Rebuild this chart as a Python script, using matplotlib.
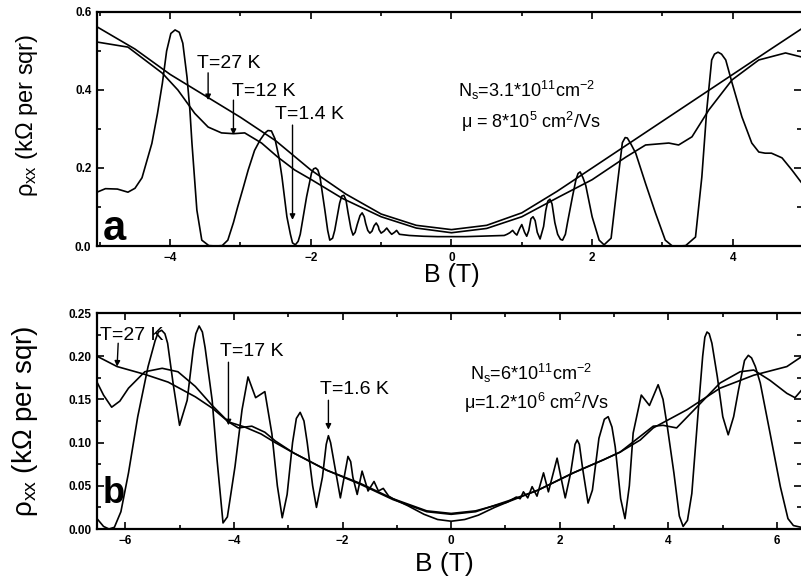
import matplotlib
matplotlib.use("Agg")
import matplotlib.pyplot as plt
from matplotlib.ticker import MultipleLocator

plt.rcParams['font.family'] = ['Liberation Sans', 'DejaVu Sans']
plt.rcParams['mathtext.fontset'] = 'custom'
plt.rcParams['mathtext.rm'] = 'Liberation Sans'
plt.rcParams['mathtext.it'] = 'Liberation Sans:italic'
plt.rcParams['mathtext.bf'] = 'Liberation Sans:bold'

# ---- panel a : Ns = 3.1e11 ----
B_a_27 = [-5.04, -4.5, -4.0, -3.5, -3.0, -2.5, -2.0, -1.5, -1.0, -0.5, 0.0,
          0.5, 1.0, 1.5, 2.0, 2.5, 3.0, 3.5, 4.0, 4.5, 4.97]
rho_a_27 = [0.562, 0.505, 0.44, 0.385, 0.33, 0.27, 0.195, 0.133, 0.082, 0.053, 0.042,
            0.053, 0.085, 0.14, 0.2, 0.26, 0.32, 0.38, 0.44, 0.50, 0.556]

B_a_12 = [-5.04, -4.6, -4.11, -3.89, -3.65, -3.46, -3.27, -3.1, -2.94, -2.7, -2.47,
          -2.23, -1.99, -1.55, -1.0, -0.5, 0.0, 0.5, 1.0, 1.53, 2.0, 2.48, 2.76,
          3.09, 3.23, 3.42, 3.66, 3.99, 4.37, 4.75, 4.97]
rho_a_12 = [0.523, 0.51, 0.443, 0.40, 0.34, 0.305, 0.29, 0.288, 0.29, 0.264, 0.228,
            0.195, 0.17, 0.122, 0.075, 0.046, 0.034, 0.045, 0.075, 0.126, 0.17, 0.228, 0.259,
            0.264, 0.259, 0.28, 0.349, 0.426, 0.477, 0.495, 0.485]

B_a_14 = [-5.04, -4.92, -4.75, -4.6, -4.5, -4.4, -4.26, -4.18, -4.11, -4.05, -3.99,
          -3.93, -3.87, -3.82, -3.76, -3.72, -3.69, -3.62, -3.55, -3.45, -3.35, -3.26,
          -3.18, -3.1, -3.04, -2.96, -2.89, -2.8, -2.72, -2.65, -2.61, -2.56, -2.51,
          -2.45, -2.41, -2.34, -2.29, -2.26, -2.22, -2.18, -2.15, -2.06, -1.99, -1.96,
          -1.93, -1.9, -1.87, -1.8, -1.76, -1.73, -1.69, -1.66, -1.59, -1.56, -1.53,
          -1.5, -1.47, -1.43, -1.4, -1.37, -1.34, -1.3, -1.27, -1.24, -1.22, -1.19,
          -1.16, -1.13, -1.1, -1.07, -1.04, -1.03, -1.0, -0.96, -0.92, -0.88, -0.85,
          -0.81, -0.78, -0.74, -0.6, -0.4, -0.2, 0.0, 0.2, 0.4, 0.6, 0.75, 0.79, 0.83,
          0.87, 0.9, 0.93, 0.97, 1.0, 1.04, 1.07, 1.1, 1.13, 1.16, 1.19, 1.22, 1.26,
          1.31, 1.34, 1.37, 1.4, 1.43, 1.47, 1.51, 1.55, 1.58, 1.62, 1.65, 1.72, 1.77,
          1.8, 1.83, 1.87, 1.91, 2.0, 2.1, 2.17, 2.27, 2.36, 2.43, 2.47, 2.5, 2.55,
          2.62, 2.76, 2.9, 3.04, 3.14, 3.24, 3.33, 3.47, 3.56, 3.63, 3.7, 3.74, 3.79,
          3.84, 3.9, 3.99, 4.13, 4.27, 4.37, 4.46, 4.55, 4.7, 4.84, 4.97]
rho_a_14 = [0.138, 0.147, 0.146, 0.138, 0.148, 0.175, 0.263, 0.34, 0.418, 0.5, 0.545,
            0.554, 0.548, 0.52, 0.433, 0.35, 0.264, 0.092, 0.015, 0.001, 0.0, 0.001,
            0.015, 0.06, 0.1, 0.15, 0.195, 0.245, 0.272, 0.29, 0.296, 0.295, 0.275,
            0.225, 0.177, 0.075, 0.03, 0.008, 0.003, 0.012, 0.03, 0.126, 0.187, 0.198,
            0.2, 0.195, 0.178, 0.092, 0.04, 0.015, 0.02, 0.04, 0.11, 0.128, 0.13,
            0.118, 0.085, 0.045, 0.028, 0.035, 0.055, 0.078, 0.085, 0.075, 0.058, 0.04,
            0.033, 0.038, 0.052, 0.059, 0.05, 0.042, 0.033, 0.038, 0.046, 0.036, 0.03,
            0.035, 0.04, 0.03, 0.027, 0.025, 0.024, 0.024, 0.024, 0.025, 0.026, 0.027, 0.03, 0.034,
            0.04, 0.033, 0.028, 0.045, 0.055, 0.035, 0.025, 0.04, 0.07, 0.075, 0.065, 0.035, 0.018,
            0.05, 0.09, 0.115, 0.12, 0.108, 0.06, 0.03, 0.017, 0.015, 0.03, 0.06, 0.126, 0.17,
            0.186, 0.19, 0.175, 0.155, 0.075, 0.015, 0.003, 0.02, 0.16, 0.265, 0.278, 0.277, 0.262,
            0.238, 0.16, 0.085, 0.015, 0.0, 0.0, 0.001, 0.023, 0.177, 0.349, 0.477, 0.492, 0.497,
            0.492, 0.477, 0.418, 0.331, 0.264, 0.241, 0.238, 0.238, 0.226, 0.195, 0.164]

# ---- panel b : Ns = 6e11 ----
B_b_27 = [-6.52, -6.15, -5.64, -5.21, -4.71, -4.4, -4.1, -3.8, -3.5, -3.24, -2.9,
          -2.29, -1.68, -1.07, -0.45, 0.0, 0.45, 1.03, 1.6, 2.25, 2.8, 3.11, 3.48,
          3.72, 4.34, 4.95, 5.57, 6.18, 6.44]
rho_b_27 = [0.2, 0.188, 0.179, 0.17, 0.153, 0.14, 0.124, 0.118, 0.11, 0.1, 0.088,
            0.068, 0.053, 0.035, 0.021, 0.018, 0.021, 0.031, 0.045, 0.065, 0.08, 0.089, 0.103,
            0.117, 0.138, 0.163, 0.178, 0.188, 0.199]

B_b_17 = [-6.52, -6.4, -6.25, -6.1, -5.94, -5.64, -5.32, -5.03, -4.71, -4.4, -4.1,
          -3.92, -3.67, -3.43, -3.24, -2.9, -2.29, -1.68, -1.07, -0.45, 0.0, 0.45, 1.07,
          1.6, 2.25, 2.8, 3.11, 3.72, 3.9, 4.15, 4.52, 4.95, 5.32, 5.57, 5.87, 6.18,
          6.33, 6.44]
rho_b_17 = [0.17, 0.155, 0.141, 0.148, 0.163, 0.182, 0.186, 0.182, 0.165, 0.143, 0.124,
            0.117, 0.119, 0.112, 0.102, 0.088, 0.068, 0.052, 0.034, 0.02, 0.017, 0.02, 0.033,
            0.045, 0.065, 0.08, 0.089, 0.119, 0.12, 0.117, 0.141, 0.169, 0.182, 0.184, 0.172, 0.157,
            0.152, 0.16]

B_b_16 = [-6.52, -6.4, -6.3, -6.2, -6.08, -5.94, -5.77, -5.58, -5.45, -5.39, -5.33,
          -5.27, -5.22, -5.12, -5.0, -4.86, -4.75, -4.7, -4.64, -4.58, -4.53, -4.4,
          -4.31, -4.2, -4.12, -3.98, -3.85, -3.74, -3.6, -3.43, -3.3, -3.2, -3.11,
          -3.02, -2.92, -2.85, -2.78, -2.71, -2.65, -2.55, -2.48, -2.37, -2.3, -2.26,
          -2.22, -2.15, -2.04, -1.97, -1.9, -1.85, -1.81, -1.73, -1.64, -1.53, -1.42,
          -1.34, -1.25, -1.15, -1.07, -0.8, -0.5, -0.25, 0.0, 0.25, 0.5, 0.8, 1.03,
          1.2, 1.27, 1.33, 1.41, 1.49, 1.58, 1.7, 1.79, 1.95, 2.02, 2.1, 2.2, 2.28,
          2.32, 2.36, 2.42, 2.52, 2.6, 2.72, 2.82, 2.89, 2.96, 3.02, 3.12, 3.2, 3.28,
          3.35, 3.5, 3.65, 3.81, 3.9, 3.98, 4.1, 4.2, 4.27, 4.35, 4.43, 4.55, 4.63,
          4.67, 4.71, 4.75, 4.8, 4.9, 5.0, 5.1, 5.2, 5.29, 5.4, 5.47, 5.53, 5.6, 5.69,
          5.87, 6.06, 6.2, 6.3, 6.44]
rho_b_16 = [0.012, 0.003, 0.0, 0.002, 0.02, 0.065, 0.13, 0.188, 0.218, 0.228, 0.23,
            0.226, 0.215, 0.169, 0.12, 0.149, 0.207, 0.226, 0.235, 0.228, 0.21, 0.149,
            0.08, 0.007, 0.014, 0.072, 0.138, 0.176, 0.152, 0.159, 0.11, 0.05, 0.013,
            0.04, 0.1, 0.128, 0.135, 0.125, 0.1, 0.05, 0.025, 0.06, 0.098, 0.108,
            0.1, 0.075, 0.036, 0.06, 0.084, 0.078, 0.06, 0.04, 0.067, 0.044, 0.055,
            0.044, 0.047, 0.038, 0.035, 0.027, 0.017, 0.011, 0.009, 0.011, 0.016, 0.025, 0.031,
            0.037, 0.035, 0.043, 0.036, 0.049, 0.038, 0.065, 0.043, 0.082, 0.06, 0.036, 0.065, 0.098,
            0.103, 0.098, 0.07, 0.03, 0.045, 0.105, 0.127, 0.13, 0.118, 0.095, 0.035, 0.012, 0.05,
            0.111, 0.155, 0.143, 0.167, 0.15, 0.118, 0.065, 0.015, 0.003, 0.01, 0.041, 0.138, 0.2,
            0.222, 0.228, 0.226, 0.215, 0.176, 0.13, 0.109, 0.13, 0.161, 0.195, 0.201, 0.198, 0.188, 0.169,
            0.111, 0.049, 0.012, 0.004, 0.002]

fig = plt.figure(figsize=(8.01, 5.82), dpi=100)
ax_a = fig.add_axes([97 / 801, 1 - 246 / 582, 704 / 801, 234 / 582])
ax_b = fig.add_axes([97 / 801, 1 - 529 / 582, 704 / 801, 216 / 582])

for B, rho in [(B_a_27, rho_a_27), (B_a_12, rho_a_12), (B_a_14, rho_a_14)]:
    ax_a.plot(B, rho, color='black', lw=1.2)
for B, rho in [(B_b_27, rho_b_27), (B_b_17, rho_b_17), (B_b_16, rho_b_16)]:
    ax_b.plot(B, rho, color='black', lw=1.2)

ax_a.set_xlim(-5.04, 4.97)
ax_a.set_ylim(0, 0.6)
ax_a.xaxis.set_major_locator(MultipleLocator(2))
ax_a.xaxis.set_minor_locator(MultipleLocator(1))
ax_a.yaxis.set_major_locator(MultipleLocator(0.2))
ax_a.yaxis.set_minor_locator(MultipleLocator(0.1))

ax_b.set_xlim(-6.52, 6.44)
ax_b.set_ylim(0, 0.25)
ax_b.xaxis.set_major_locator(MultipleLocator(2))
ax_b.xaxis.set_minor_locator(MultipleLocator(1))
ax_b.yaxis.set_major_locator(MultipleLocator(0.05))
ax_b.yaxis.set_minor_locator(MultipleLocator(0.025))

for ax in (ax_a, ax_b):
    for side in ('top', 'left', 'bottom'):
        ax.spines[side].set_linewidth(1.6)
    ax.spines['right'].set_visible(False)
    ax.tick_params(which='both', direction='in', top=True, right=True, width=1.2)
    ax.tick_params(which='major', length=5, labelsize=8.5, pad=4)
    ax.tick_params(which='minor', length=3)
    for lab in ax.get_xticklabels() + ax.get_yticklabels():
        lab.set_fontweight('bold')

ax_a.set_yticks([0.0, 0.2, 0.4, 0.6])
ax_a.set_yticklabels(['0.0', '0.2', '0.4', '0.6'], fontweight='bold')
ax_b.set_yticks([0.0, 0.05, 0.10, 0.15, 0.20, 0.25])
ax_b.set_yticklabels(['0.00', '0.05', '0.10', '0.15', '0.20', '0.25'], fontweight='bold')

ax_a.set_ylabel(r'ρ$_\mathregular{xx}$ (kΩ per sqr)', fontsize=17)
ax_a.yaxis.set_label_coords(-0.081, 0.56)
ax_b.set_ylabel(r'ρ$_\mathregular{xx}$ (kΩ per sqr)', fontsize=20)
ax_b.yaxis.set_label_coords(-0.081, 0.5)
ax_a.set_xlabel('B (T)', fontsize=18)
ax_a.xaxis.set_label_coords(0.504, -0.073)
ax_b.set_xlabel('B (T)', fontsize=19)
ax_b.xaxis.set_label_coords(0.493, -0.106)

ax_a.text(0.0085, 0.026, 'a', transform=ax_a.transAxes, fontsize=30,
          fontweight='bold', ha='left', va='baseline')
ax_b.text(0.0085, 0.12, 'b', transform=ax_b.transAxes, fontsize=26,
          fontweight='bold', ha='left', va='baseline')

arrow = dict(arrowstyle='-|>', color='black', lw=1.0, mutation_scale=8,
             shrinkA=0, shrinkB=0)

# panel a labels
ax_a.text(-3.62, 0.468, 'T=27 K', fontsize=14, va='center', ha='left')
ax_a.annotate('', xy=(-3.46, 0.374), xytext=(-3.46, 0.444), arrowprops=arrow)
ax_a.text(-3.12, 0.395, 'T=12 K', fontsize=14, va='center', ha='left')
ax_a.annotate('', xy=(-3.1, 0.285), xytext=(-3.1, 0.374), arrowprops=arrow)
ax_a.text(-2.51, 0.338, 'T=1.4 K', fontsize=14, va='center', ha='left')
ax_a.annotate('', xy=(-2.26, 0.067), xytext=(-2.26, 0.31), arrowprops=arrow)
ax_a.text(1.07, 0.40, r'N$_\mathregular{s}$=3.1*10$^\mathregular{11}$cm$^\mathregular{-2}$',
          fontsize=13, ha='center', va='center')
ax_a.text(1.13, 0.318, r'μ = 8*10$^\mathregular{5}$ cm$^\mathregular{2}$/Vs',
          fontsize=13, ha='center', va='center')

# panel b labels
ax_b.text(-6.46, 0.2245, 'T=27 K', fontsize=14, va='center', ha='left')
ax_b.annotate('', xy=(-6.15, 0.188), xytext=(-6.13, 0.215), arrowprops=arrow)
ax_b.text(-4.25, 0.205, 'T=17 K', fontsize=14, va='center', ha='left')
ax_b.annotate('', xy=(-4.1, 0.120), xytext=(-4.1, 0.193), arrowprops=arrow)
ax_b.text(-2.41, 0.161, 'T=1.6 K', fontsize=14, va='center', ha='left')
ax_b.annotate('', xy=(-2.26, 0.115), xytext=(-2.26, 0.149), arrowprops=arrow)
ax_b.text(1.47, 0.18, r'N$_\mathregular{s}$=6*10$^\mathregular{11}$cm$^\mathregular{-2}$',
          fontsize=13, ha='center', va='center')
ax_b.text(1.57, 0.146, r'μ=1.2*10$^\mathregular{6}$ cm$^\mathregular{2}$/Vs',
          fontsize=13, ha='center', va='center')

fig.savefig('out.png', dpi=100)
